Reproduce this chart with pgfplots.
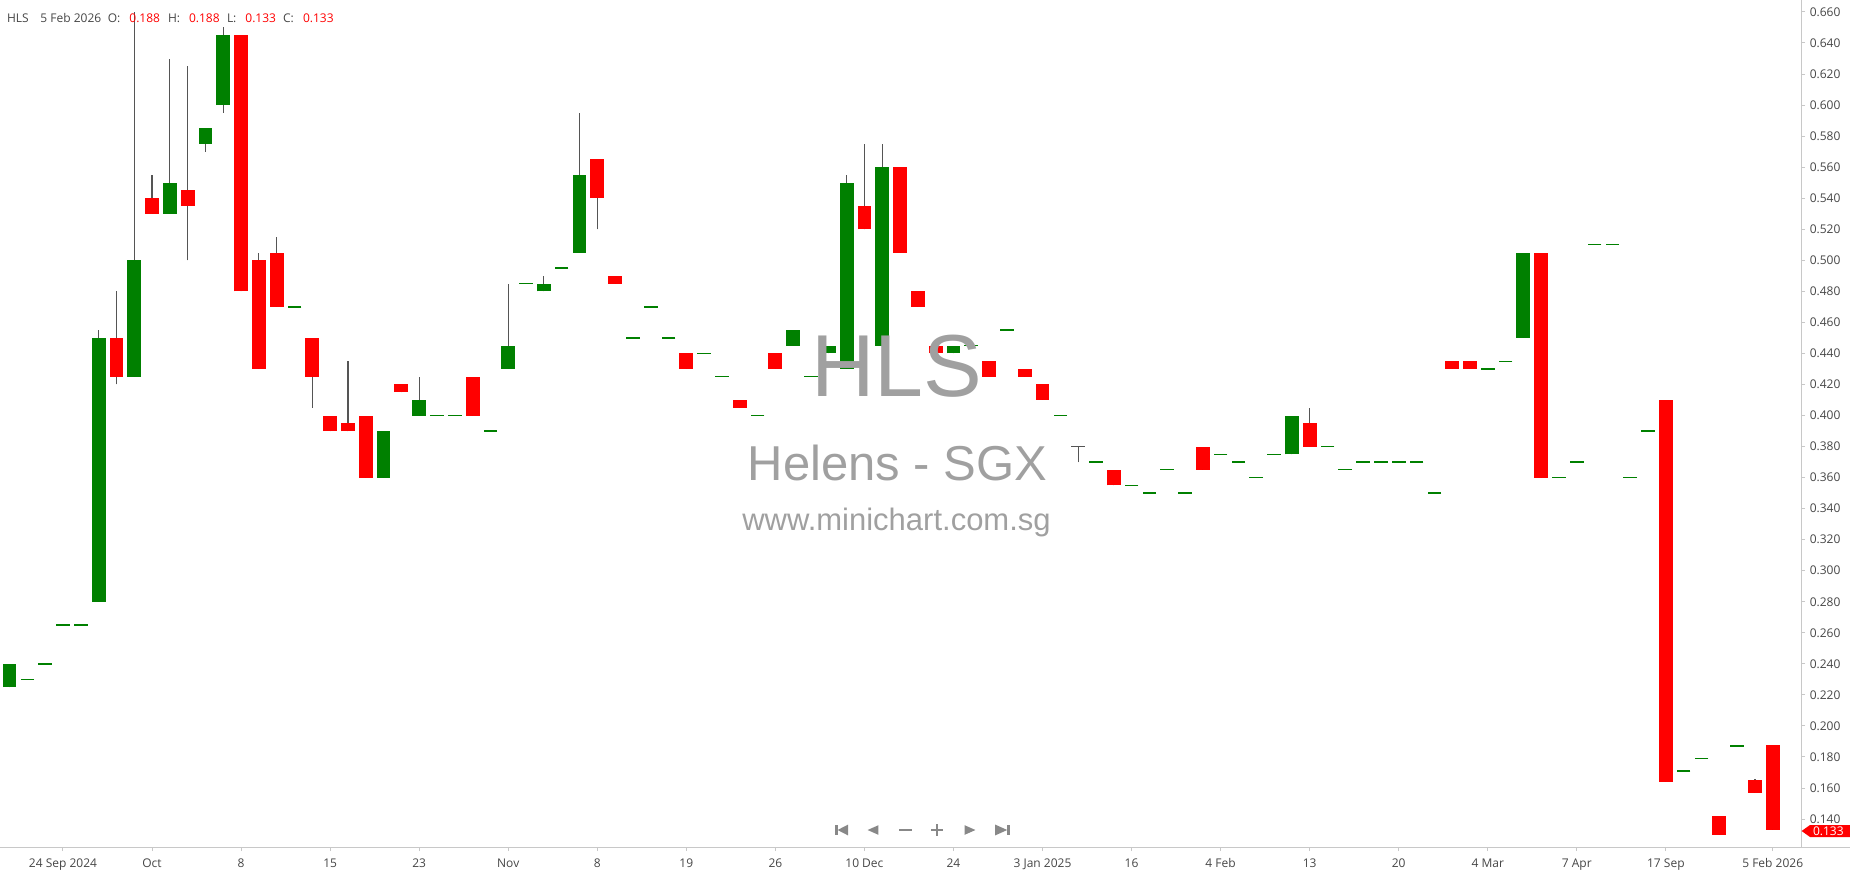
\documentclass[border=0pt]{standalone}
\usepackage{pgfplots}
\pgfplotsset{compat=1.18}
\usepackage{pgfplotstable}
\usepackage{fontspec}
\setmainfont{Open Sans}
\newfontfamily\wmfont{Liberation Sans}
\definecolor{cgreen}{RGB}{0,128,0}
\definecolor{cred}{RGB}{255,0,0}
\definecolor{wickc}{RGB}{85,85,85}
\definecolor{wm}{RGB}{160,160,160}
\definecolor{axgray}{RGB}{200,200,200}
\definecolor{lbl}{RGB}{70,70,70}
\definecolor{nav}{RGB}{136,136,136}

\pgfplotstableread{
i o h l c
0 0.225 0.240 0.225 0.240
5 0.280 0.455 0.280 0.450
7 0.425 0.660 0.425 0.500
9 0.530 0.630 0.530 0.550
11 0.575 0.585 0.570 0.585
12 0.600 0.650 0.595 0.645
21 0.360 0.390 0.360 0.390
23 0.400 0.425 0.400 0.410
28 0.430 0.485 0.430 0.445
30 0.480 0.490 0.480 0.485
32 0.505 0.595 0.505 0.555
44 0.445 0.455 0.445 0.455
46 0.440 0.445 0.440 0.445
47 0.430 0.555 0.430 0.550
49 0.445 0.575 0.445 0.560
53 0.440 0.445 0.440 0.445
72 0.375 0.400 0.375 0.400
85 0.450 0.505 0.450 0.505
}\greentab

\pgfplotstableread{
i o h l c
6 0.450 0.480 0.420 0.425
8 0.540 0.555 0.530 0.530
10 0.545 0.625 0.500 0.535
13 0.645 0.645 0.480 0.480
14 0.500 0.505 0.430 0.430
15 0.505 0.515 0.470 0.470
17 0.450 0.450 0.405 0.425
18 0.400 0.400 0.390 0.390
19 0.395 0.435 0.390 0.390
20 0.400 0.400 0.360 0.360
22 0.420 0.420 0.415 0.415
26 0.425 0.425 0.400 0.400
33 0.565 0.565 0.520 0.540
34 0.490 0.490 0.485 0.485
38 0.440 0.440 0.430 0.430
41 0.410 0.410 0.405 0.405
43 0.440 0.440 0.430 0.430
48 0.535 0.575 0.520 0.520
50 0.560 0.560 0.505 0.505
51 0.480 0.480 0.470 0.470
52 0.445 0.445 0.440 0.440
55 0.435 0.435 0.425 0.425
57 0.430 0.430 0.425 0.425
58 0.420 0.420 0.410 0.410
62 0.365 0.365 0.355 0.355
67 0.380 0.380 0.365 0.365
73 0.395 0.405 0.380 0.380
81 0.435 0.435 0.430 0.430
82 0.435 0.435 0.430 0.430
86 0.505 0.505 0.360 0.360
93 0.410 0.410 0.164 0.164
96 0.142 0.142 0.130 0.130
98 0.165 0.166 0.157 0.157
99 0.188 0.188 0.133 0.133
}\redtab

\pgfplotstableread{
i o h l c
1 0.230 0.230 0.230 0.230
2 0.240 0.240 0.240 0.240
3 0.265 0.265 0.265 0.265
4 0.265 0.265 0.265 0.265
16 0.470 0.470 0.470 0.470
24 0.400 0.400 0.400 0.400
25 0.400 0.400 0.400 0.400
27 0.390 0.390 0.390 0.390
29 0.485 0.485 0.485 0.485
31 0.495 0.495 0.495 0.495
35 0.450 0.450 0.450 0.450
36 0.470 0.470 0.470 0.470
37 0.450 0.450 0.450 0.450
39 0.440 0.440 0.440 0.440
40 0.425 0.425 0.425 0.425
42 0.400 0.400 0.400 0.400
45 0.425 0.425 0.425 0.425
54 0.445 0.445 0.445 0.445
56 0.455 0.455 0.455 0.455
59 0.400 0.400 0.400 0.400
61 0.370 0.370 0.370 0.370
63 0.355 0.355 0.355 0.355
64 0.350 0.350 0.350 0.350
65 0.365 0.365 0.365 0.365
66 0.350 0.350 0.350 0.350
68 0.375 0.375 0.375 0.375
69 0.370 0.370 0.370 0.370
70 0.360 0.360 0.360 0.360
71 0.375 0.375 0.375 0.375
74 0.380 0.380 0.380 0.380
75 0.365 0.365 0.365 0.365
76 0.370 0.370 0.370 0.370
77 0.370 0.370 0.370 0.370
78 0.370 0.370 0.370 0.370
79 0.370 0.370 0.370 0.370
80 0.350 0.350 0.350 0.350
83 0.430 0.430 0.430 0.430
84 0.435 0.435 0.435 0.435
87 0.360 0.360 0.360 0.360
88 0.370 0.370 0.370 0.370
89 0.510 0.510 0.510 0.510
90 0.510 0.510 0.510 0.510
91 0.360 0.360 0.360 0.360
92 0.390 0.390 0.390 0.390
94 0.171 0.171 0.171 0.171
95 0.179 0.179 0.179 0.179
97 0.187 0.187 0.187 0.187
}\dojitab

\pgfplotstableread{
i o h l c
60 0.380 0.380 0.370 0.380
}\graytab

\pgfplotsset{
  wickstyle/.style={only marks, mark=*, mark size=0pt, mark options={draw=none, fill=none}, forget plot,
    error bars/.cd, y dir=plus, y explicit, error mark=none,
    error bar style={draw=wickc, line width=0.6pt}},
  bodystyle/.style={only marks, mark=*, mark size=0pt, mark options={draw=none, fill=none}, forget plot,
    error bars/.cd, y dir=plus, y explicit, error mark=none,
    error bar style={draw=#1, line width=6.9pt}},
}

\begin{document}
\begin{tikzpicture}
\useasboundingbox (0,-13.5pt) rectangle (925pt,423.5pt);
\begin{axis}[
  at={(0,0)}, anchor=south west,
  scale only axis, width=900.5pt, height=423.5pt,
  xmin=-0.537, xmax=100.59, ymin=0.122, ymax=0.6677,
  axis x line*=bottom, axis y line*=right,
  axis line style={draw=axgray, line width=0.5pt},
  tick align=outside, major tick length=2pt,
  tick style={draw=axgray, line width=0.5pt},
  xtick={3,8,13,18,23,28,33,38,43,48,53,58,63,68,73,78,83,88,93,99},
  xticklabels={24 Sep 2024, Oct, 8, 15, 23, Nov, 8, 19, 26, 10 Dec, 24, 3 Jan 2025, 16, 4 Feb, 13, 20, 4 Mar, 7 Apr, 17 Sep, 5 Feb 2026},
  ytick={0.14,0.16,0.18,0.20,0.22,0.24,0.26,0.28,0.30,0.32,0.34,0.36,0.38,0.40,0.42,0.44,0.46,0.48,0.50,0.52,0.54,0.56,0.58,0.60,0.62,0.64,0.66},
  ticklabel style={font=\fontsize{6}{7}\selectfont, text=lbl, inner sep=0pt},
  xticklabel style={anchor=base, yshift=-8.3pt},
  yticklabel style={anchor=west, xshift=2.2pt,
    /pgf/number format/fixed, /pgf/number format/fixed zerofill,
    /pgf/number format/precision=3, /pgf/number format/assume math mode=true},
]
% wicks
\addplot[wickstyle] table[x=i, y=l, y error plus expr=\thisrow{h}-\thisrow{l}] {\greentab};
\addplot[wickstyle] table[x=i, y=l, y error plus expr=\thisrow{h}-\thisrow{l}] {\redtab};
\addplot[wickstyle] table[x=i, y=l, y error plus expr=\thisrow{h}-\thisrow{l}] {\graytab};
% bodies
\addplot[bodystyle=cgreen] table[x=i, y=o, y error plus expr=\thisrow{c}-\thisrow{o}] {\greentab};
\addplot[bodystyle=cred] table[x=i, y=c, y error plus expr=\thisrow{o}-\thisrow{c}] {\redtab};
% doji dashes
\addplot[only marks, mark=-, mark size=3.4pt, mark options={draw=cgreen, line width=0.65pt}, forget plot] table[x=i, y=o] {\dojitab};
\addplot[only marks, mark=-, mark size=3.4pt, mark options={draw=wickc, line width=0.65pt}, forget plot] table[x=i, y=o] {\graytab};
\end{axis}

% extend bottom line to the right edge
\draw[axgray, line width=0.5pt] (900.5pt,0) -- (925pt,0);

% watermarks
\node[anchor=base, text=wm, inner sep=0pt, font=\wmfont\fontsize{44}{44}\selectfont] at (448.5pt,225.5pt) {HLS};
\node[anchor=base, text=wm, inner sep=0pt, font=\wmfont\fontsize{24.5}{25}\selectfont] at (448.75pt,183.5pt) {Helens - SGX};
\node[anchor=base, text=wm, inner sep=0pt, font=\wmfont\fontsize{15.5}{16}\selectfont] at (448.25pt,158.2pt) {www.minichart.com.sg};

% header
\begin{scope}[every node/.style={anchor=base west, inner sep=0pt, font=\fontsize{6}{7}\selectfont}]
\node[text=lbl] at (3.3pt,412.2pt) {HLS};
\node[text=lbl] at (20pt,412.2pt) {5 Feb 2026};
\node[text=lbl] at (53.7pt,412.2pt) {O:};
\node[text=cred] at (64.5pt,412.2pt) {0.188};
\node[text=lbl] at (83.8pt,412.2pt) {H:};
\node[text=cred] at (94.3pt,412.2pt) {0.188};
\node[text=lbl] at (113.3pt,412.2pt) {L:};
\node[text=cred] at (122.5pt,412.2pt) {0.133};
\node[text=lbl] at (141.3pt,412.2pt) {C:};
\node[text=cred] at (151.3pt,412.2pt) {0.133};
\end{scope}

% price tag
\fill[cred] (900.8pt,8pt) -- (905pt,11pt) -- (925pt,11pt) -- (925pt,5pt) -- (905pt,5pt) -- cycle;
\node[anchor=west, inner sep=0pt, text=white, font=\fontsize{6}{7}\selectfont] at (906.3pt,8pt) {0.133};

% navigation icons
\begin{scope}[nav]
\fill (417.6pt,5.8pt) rectangle (418.8pt,11.2pt);
\fill (418.8pt,8.5pt) -- (424pt,11.2pt) -- (424pt,5.8pt) -- cycle;
\fill (433.8pt,8.5pt) -- (439.2pt,10.9pt) -- (439.2pt,6.1pt) -- cycle;
\fill (449.6pt,8.1pt) rectangle (456pt,8.9pt);
\fill (465.3pt,8.1pt) rectangle (471.7pt,8.9pt);
\fill (468.1pt,5.3pt) rectangle (468.9pt,11.7pt);
\fill (487.7pt,8.5pt) -- (482.3pt,10.9pt) -- (482.3pt,6.1pt) -- cycle;
\fill (503.6pt,5.8pt) rectangle (504.8pt,11.2pt);
\fill (503.6pt,8.5pt) -- (497.6pt,11.2pt) -- (497.6pt,5.8pt) -- cycle;
\end{scope}
\end{tikzpicture}
\end{document}
